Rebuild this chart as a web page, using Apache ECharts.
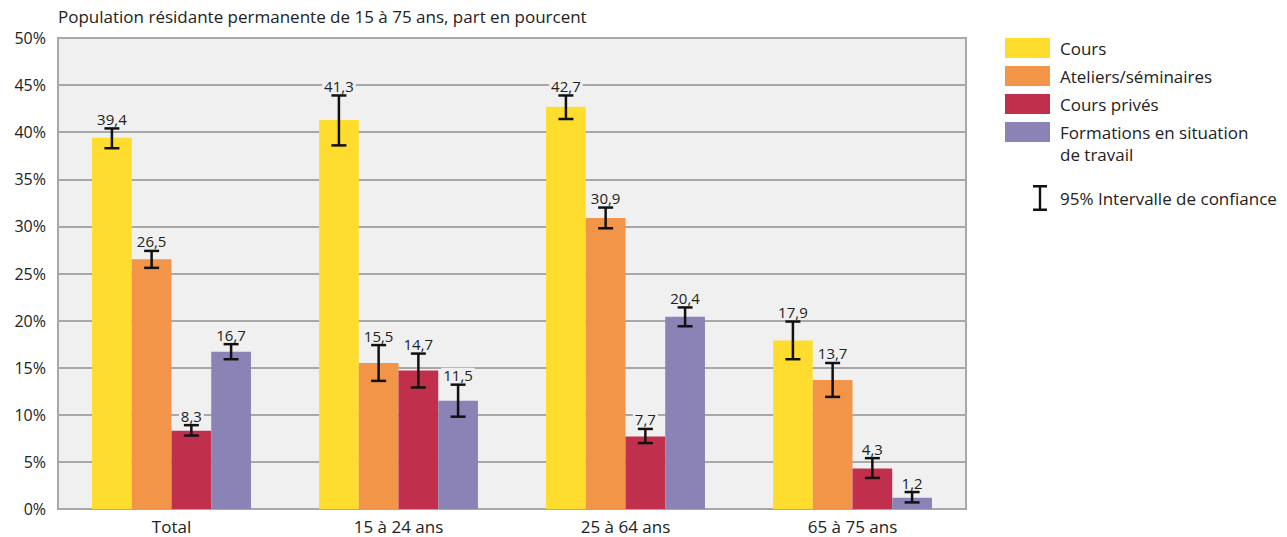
<!DOCTYPE html>
<html><head><meta charset="utf-8">
<script src="https://cdn.jsdelivr.net/npm/echarts@6/dist/echarts.min.js"></script>
<style>html,body{margin:0;padding:0;background:#fff}#c{width:1287px;height:537px}</style>
</head><body><div id="c"></div>
<script>
const categories = ['Total', '15 à 24 ans', '25 à 64 ans', '65 à 75 ans'];
const seriesNames = ['Cours', 'Ateliers/séminaires', 'Cours privés', 'Formations en situation de travail'];
const cours = [39.4, 41.3, 42.7, 17.9];
const ateliers = [26.5, 15.5, 30.9, 13.7];
const prives = [8.3, 14.7, 7.7, 4.3];
const formations = [16.7, 11.5, 20.4, 1.2];
const coursLow = [38.3, 38.6, 41.4, 15.9];
const coursHigh = [40.4, 43.9, 43.9, 19.9];
const ateliersLow = [25.6, 13.6, 29.8, 11.9];
const ateliersHigh = [27.4, 17.4, 32.0, 15.5];
const privesLow = [7.8, 12.9, 7.0, 3.3];
const privesHigh = [8.9, 16.5, 8.5, 5.4];
const formationsLow = [15.9, 9.8, 19.4, 0.7];
const formationsHigh = [17.5, 13.2, 21.4, 1.8];
const yTicks = [0, 5, 10, 15, 20, 25, 30, 35, 40, 45, 50];
const ciName = '95% Intervalle de confiance';
const titleText = 'Population résidante permanente de 15 à 75 ans, part en pourcent';

const colors = ['#FFDD2E', '#F39549', '#C02F4C', '#8B82B5'];
const values = [cours, ateliers, prives, formations];
const lows = [coursLow, ateliersLow, privesLow, formationsLow];
const highs = [coursHigh, ateliersHigh, privesHigh, formationsHigh];
const FONT = '"Open Sans", "DejaVu Sans", sans-serif';

const ciData = [];
for (let s = 0; s < 4; s++) {
  for (let c = 0; c < categories.length; c++) {
    ciData.push([c, s, lows[s][c], highs[s][c], values[s][c]]);
  }
}

const barSeries = seriesNames.map((n, i) => ({
  name: n, type: 'bar', data: values[i], barGap: '0%', barCategoryGap: '30%',
  itemStyle: { color: colors[i] }, z: 2
}));

const chart = echarts.init(document.getElementById('c'), null, { renderer: 'svg' });
chart.setOption({
  animation: false,
  textStyle: { fontFamily: FONT },
  title: {
    text: titleText, left: 58, top: 8, padding: 0,
    textStyle: { fontSize: 17, fontWeight: 'normal', color: '#222', fontFamily: FONT }
  },
  grid: {
    left: 58, right: 321, top: 38, bottom: 28, show: true,
    backgroundColor: '#f0f0f0', borderColor: '#a8a8a8', borderWidth: 2
  },
  legend: [{
    orient: 'vertical', left: 1005, top: 38, padding: 0,
    itemWidth: 45, itemHeight: 20, itemGap: 8,
    data: seriesNames.slice(0, 3).map(n => ({ name: n, icon: 'rect' })),
    textStyle: { fontSize: 17, color: '#222', fontFamily: FONT, lineHeight: 20, padding: [0, 0, 0, 5] }
  }, {
    orient: 'vertical', left: 1005, top: 99, padding: 0,
    itemWidth: 45, itemHeight: 20,
    data: [{ name: seriesNames[3], icon: 'rect' }],
    formatter: n => '\nFormations en situation\nde travail',
    textStyle: { fontSize: 17, color: '#222', fontFamily: FONT, lineHeight: 22, padding: [0, 0, 0, 5] }
  }, {
    orient: 'vertical', left: 1033, top: 185, padding: 0,
    itemWidth: 14, itemHeight: 26,
    data: [{ name: ciName, icon: 'path://M0,0H14V2.5H8.2V23.5H14V26H0V23.5H5.8V2.5H0Z' }],
    textStyle: { fontSize: 17, color: '#222', fontFamily: FONT, padding: [0, 0, 0, 8] }
  }],
  xAxis: {
    type: 'category', data: categories,
    axisLine: { lineStyle: { color: '#a8a8a8', width: 2 } },
    axisTick: { show: false },
    axisLabel: { fontSize: 17, color: '#222', margin: 9, fontFamily: FONT }
  },
  yAxis: {
    type: 'value', min: yTicks[0], max: yTicks[yTicks.length - 1], interval: 5,
    axisLine: { show: true, lineStyle: { color: '#a8a8a8', width: 2 } },
    axisTick: { show: false },
    splitLine: { lineStyle: { color: '#a8a8a8', width: 2 } },
    axisLabel: { fontSize: 16, color: '#222', margin: 12, fontFamily: FONT, formatter: '{value}%' }
  },
  series: barSeries.concat([{
    name: ciName, type: 'custom', data: ciData, z: 5,
    itemStyle: { color: '#111' },
    encode: { x: 0, y: [2, 3] },
    renderItem: function (params, api) {
      const c = api.value(0), s = api.value(1);
      const lo = api.coord([c, api.value(2)]);
      const hi = api.coord([c, api.value(3)]);
      const bandW = api.size([1, 0])[0];
      const barW = bandW * 0.7 / 4;
      const x = lo[0] + (s - 1.5) * barW;
      const cap = 7.5;
      const ls = { stroke: '#111', lineWidth: 2.5 };
      const txt = String(api.value(4)).replace('.', ',');
      return {
        type: 'group',
        children: [
          { type: 'line', shape: { x1: x, y1: hi[1], x2: x, y2: lo[1] }, style: ls },
          { type: 'line', shape: { x1: x - cap, y1: hi[1], x2: x + cap, y2: hi[1] }, style: ls },
          { type: 'line', shape: { x1: x - cap, y1: lo[1], x2: x + cap, y2: lo[1] }, style: ls },
          { type: 'text', z2: 10, style: {
              text: txt, x: x, y: hi[1] - 2, align: 'center', verticalAlign: 'bottom',
              fill: '#222', fontSize: 15, fontFamily: FONT,
              backgroundColor: '#f0f0f0', padding: [0, 2, 0, 2]
          } }
        ]
      };
    }
  }])
});
</script>
</body></html>
